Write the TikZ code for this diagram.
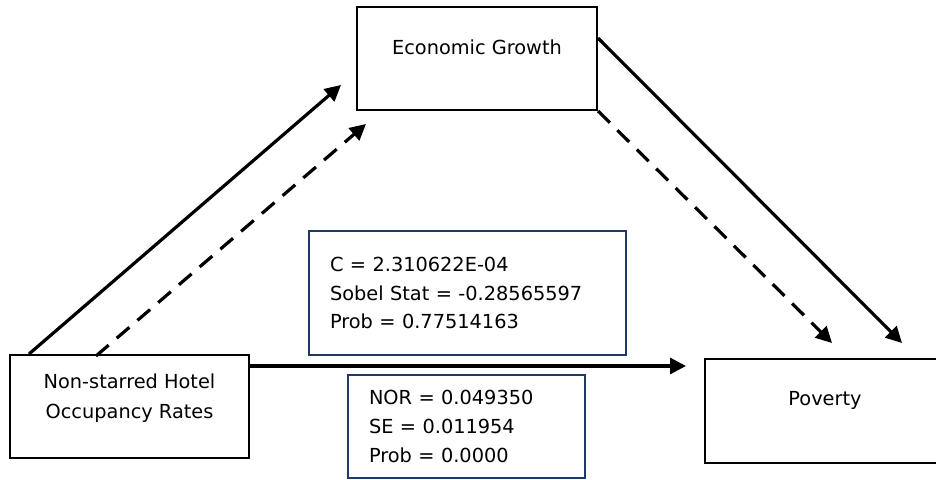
\documentclass[tikz,border=0pt]{standalone}
\usepackage{fontspec}
\setmainfont{DejaVu Sans}
\usetikzlibrary{arrows.meta, positioning, calc}
\definecolor{cNavy}{RGB}{32,56,100}
\tikzset{
  varbox/.style={rectangle, draw=black, line width=1.5pt, fill=white,
                 font=\fontsize{14.5pt}{22.5pt}\selectfont, align=center,
                 inner sep=0pt, text height=9pt, text depth=15.75pt},
  statbox/.style={rectangle, draw=cNavy, line width=1.5pt, fill=white,
                  font=\fontsize{14.5pt}{21.5pt}\selectfont, align=left,
                  inner xsep=15.75pt, inner ysep=0pt},
  patharrow/.style={-{Triangle[length=12pt, width=12pt]}, line width=2.4pt},
  patharrowD/.style={patharrow, dash pattern=on 12.5pt off 8pt},
}

\begin{document}
\begin{tikzpicture}[x=0.75pt, y=-0.75pt]
\useasboundingbox (0,0) rectangle (936,479);

%% ============================================================
%%  VARIABLES
%% ============================================================
\node[varbox, minimum width=179.25pt, minimum height=77.25pt,
      text height=24pt, text depth=6.75pt]
  (hotel) at (129.5, 406.5) {Non-starred Hotel\\Occupancy Rates};
\node[varbox, minimum width=180pt, minimum height=77.25pt]
  (growth) at (477, 58.5) {Economic Growth};
\node[varbox, minimum width=180pt, minimum height=78pt,
      text depth=18pt]
  (poverty) at (825, 411) {Poverty};

%% ============================================================
%%  STATISTICS BOXES
%% ============================================================
\node[statbox, text width=206.25pt, minimum height=93pt]
  (sobel) at (467.5, 293) {%
  C = 2.310622E-04\\
  Sobel Stat = -0.28565597\\
  Prob = 0.77514163
};
\node[statbox, text width=146.25pt, minimum height=77.25pt]
  (direct) at (466.5, 426.5) {%
  NOR = 0.049350\\
  SE = 0.011954\\
  Prob = 0.0000
};

%% ============================================================
%%  ARROW ENDS
%% ============================================================
\coordinate (tipA) at ($(growth.south west)+(-15,-26)$);
\coordinate (tipB) at ($(growth.south west)+(10,13)$);
\coordinate (tipC) at ($(poverty.north west)+(198,-15)$);
\coordinate (tipD) at ($(poverty.north west)+(128,-15)$);
\coordinate (tipE) at ($(hotel.north east -| poverty.west)+(-18,12)$);

%% ----- hotel -> growth -----
\draw[patharrow]  ($(hotel.north west)+(20,0)$) -- (tipA);
\draw[patharrowD] ($(hotel.north west)+(87,2)$) -- (tipB);

%% ----- growth -> poverty -----
\draw[patharrow]  ($(growth.north east)+(0,32)$) -- (tipC);
\draw[patharrowD] (growth.south east) -- (tipD);

%% ----- hotel -> poverty (direct) -----
\draw[patharrow]  ($(hotel.north east)+(0,12)$) -- (tipE);

\end{tikzpicture}
\end{document}
